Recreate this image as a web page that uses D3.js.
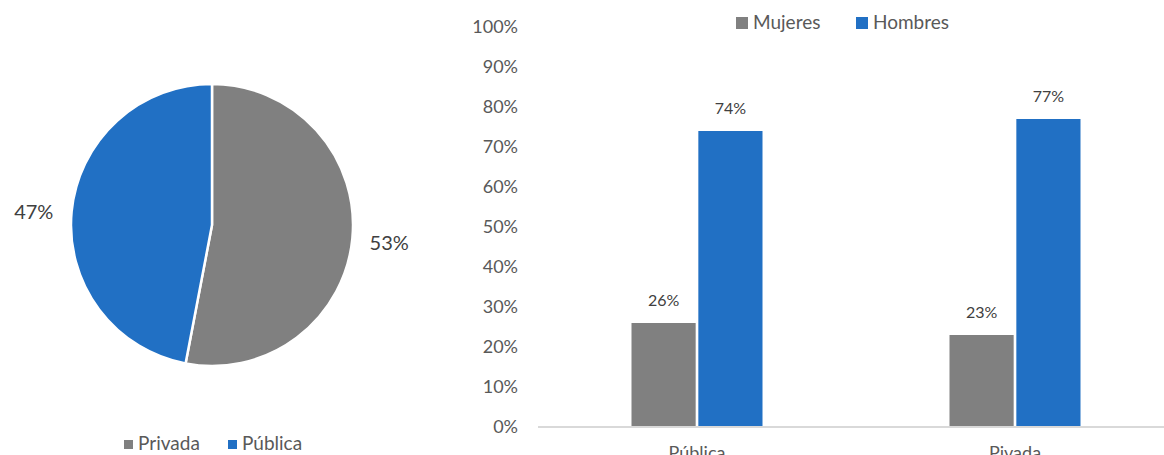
<!DOCTYPE html>
<html>
<head>
<meta charset="utf-8">
<script src="https://cdn.jsdelivr.net/npm/d3@7/dist/d3.min.js"></script>
<style>
  html, body { margin: 0; padding: 0; background: #fff; }
  svg { display: block; font-family: Lato, "Open Sans", sans-serif; }
</style>
</head>
<body>
<svg id="chart" width="1164" height="455"></svg>
<script>
// Sector share (pie)
const pieCategories = ["Privada", "Pública"];
const pieValues = [53, 47];

// Gender split per sector (bars)
const barCategories = ["Pública", "Pivada"];
const seriesNames = ["Mujeres", "Hombres"];
const mujeres = [26, 23];
const hombres = [74, 77];
const yTicks = [0, 10, 20, 30, 40, 50, 60, 70, 80, 90, 100];

const colors = { gray: "#808080", blue: "#2170C4", text: "#595959", label: "#404040", axis: "#d9d9d9" };

const svg = d3.select("#chart");

// ---------- Pie ----------
const cx = 212, cy = 225, r = 141;
const pieData = pieCategories.map((c, i) => ({ cat: c, value: pieValues[i] }));
const pie = d3.pie().value(d => d.value).sort(null);
const arc = d3.arc().innerRadius(0).outerRadius(r);
const pieColor = d3.scaleOrdinal().domain(pieCategories).range([colors.gray, colors.blue]);

const pg = svg.append("g").attr("transform", `translate(${cx},${cy})`);
const arcs = pie(pieData);
pg.selectAll("path").data(arcs).join("path")
  .attr("d", arc)
  .attr("fill", d => pieColor(d.data.cat))
  .attr("stroke", "#fff")
  .attr("stroke-width", 2.5)
  .attr("stroke-linejoin", "round");

const labelArc = d3.arc().innerRadius(r + 35).outerRadius(r + 35);
pg.selectAll("text.pl").data(arcs).join("text")
  .attr("class", "pl")
  .attr("x", d => labelArc.centroid(d)[0] + (d.index === 0 ? 2 : -3))
  .attr("y", d => labelArc.centroid(d)[1] + (d.index === 0 ? 0 : 3))
  .attr("text-anchor", "middle")
  .attr("dominant-baseline", "central")
  .attr("font-size", 20)
  .attr("fill", colors.label)
  .text(d => d.data.value + "%");

// Pie legend
const pl = svg.append("g").attr("transform", "translate(122,445)");
const plX = [0, 104];
pieCategories.forEach((c, i) => {
  const g = pl.append("g").attr("transform", `translate(${plX[i]},0)`);
  g.append("rect").attr("x", 2).attr("y", -5).attr("width", 9).attr("height", 9).attr("fill", pieColor(c));
  g.append("text").attr("x", 16).attr("y", 0).attr("dominant-baseline", "middle")
    .attr("font-size", 19).attr("fill", colors.text).text(c);
});

// ---------- Bars ----------
const x0 = d3.scaleBand().domain(barCategories).range([538, 1174]);
const x1 = d3.scaleBand().domain(seriesNames).range([0, 131]).paddingInner(0.04);
const y = d3.scaleLinear().domain([0, 100]).range([427, 27]);
const barColor = d3.scaleOrdinal().domain(seriesNames).range([colors.gray, colors.blue]);

const rows = barCategories.map((c, i) => ({ cat: c, vals: [
  { s: "Mujeres", v: mujeres[i] }, { s: "Hombres", v: hombres[i] } ] }));

// y axis labels (no line)
const yAxis = d3.axisLeft(y).tickValues(yTicks).tickFormat(d => d + "%").tickSize(0).tickPadding(0);
const ya = svg.append("g").attr("transform", "translate(518,0)").call(yAxis);
ya.select(".domain").remove();
ya.selectAll("text").attr("font-size", 18).attr("fill", colors.text).attr("font-family", "Lato, sans-serif");

// bars
const groups = svg.append("g").selectAll("g").data(rows).join("g")
  .attr("transform", d => `translate(${x0(d.cat) + x0.bandwidth() / 2 - 65.5},0)`);
groups.selectAll("rect").data(d => d.vals).join("rect")
  .attr("x", d => x1(d.s))
  .attr("y", d => y(d.v))
  .attr("width", x1.bandwidth())
  .attr("height", d => y(0) - y(d.v))
  .attr("fill", d => barColor(d.s));
groups.selectAll("text").data(d => d.vals).join("text")
  .attr("x", d => x1(d.s) + x1.bandwidth() / 2)
  .attr("y", d => y(d.v) - 17)
  .attr("text-anchor", "middle")
  .attr("font-size", 16)
  .attr("fill", colors.label)
  .text(d => d.v + "%");

// x axis
const xAxis = d3.axisBottom(x0).tickSize(0).tickPadding(19);
const xa = svg.append("g").attr("transform", `translate(0,${y(0)})`).call(xAxis);
xa.select(".domain").attr("stroke", colors.axis).attr("stroke-width", 2).attr("d", "M538,0H1164");
xa.selectAll("text").attr("font-size", 18).attr("fill", colors.text).attr("font-family", "Lato, sans-serif")
  .attr("dy", "0.71em");

// bar legend
const bl = svg.append("g").attr("transform", "translate(736,23)");
const blX = [0, 120];
seriesNames.forEach((s, i) => {
  const g = bl.append("g").attr("transform", `translate(${blX[i]},0)`);
  g.append("rect").attr("x", 0).attr("y", -6).attr("width", 12).attr("height", 12).attr("fill", barColor(s));
  g.append("text").attr("x", 17).attr("y", 1).attr("dominant-baseline", "middle")
    .attr("font-size", 19).attr("fill", colors.text).text(s);
});
</script>
</body>
</html>
